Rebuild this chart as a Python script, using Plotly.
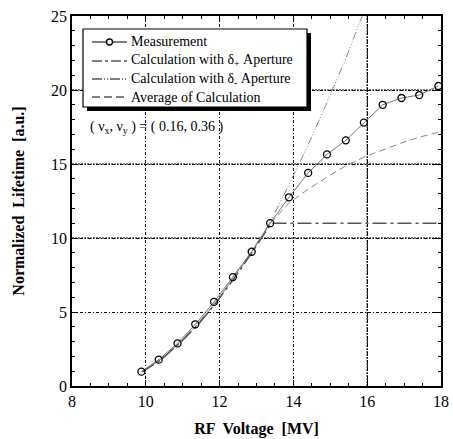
import plotly.graph_objects as go

# ---- data ----
meas_x = [9.88, 10.35, 10.86, 11.34, 11.85, 12.36, 12.87, 13.37, 13.88, 14.40,
          14.91, 15.42, 15.91, 16.42, 16.93, 17.41, 17.93]
meas_y = [0.97, 1.78, 2.88, 4.17, 5.68, 7.36, 9.07, 11.0, 12.75, 14.4,
          15.65, 16.6, 17.8, 19.0, 19.46, 19.66, 20.27]

dplus_x = [9.9, 10.4, 10.9, 11.4, 11.9, 12.4, 12.9, 13.4, 18.0]
dplus_y = [0.95, 1.75, 2.85, 4.1, 5.6, 7.3, 9.1, 11.0, 11.0]

dminus_x = [9.9, 10.4, 10.9, 11.4, 11.9, 12.4, 12.9, 13.4, 13.9, 14.4, 14.9, 15.4, 15.8, 16.0]
dminus_y = [1.0, 1.8, 2.9, 4.2, 5.7, 7.4, 9.2, 11.2, 13.7, 16.3, 19.1, 22.0, 24.6, 25.8]

avg_x = [9.9, 10.4, 10.9, 11.4, 11.9, 12.4, 12.9, 13.4, 13.9, 14.4, 14.9, 15.4,
         15.9, 16.4, 16.9, 17.4, 17.9, 18.0]
avg_y = [0.97, 1.77, 2.87, 4.15, 5.65, 7.35, 9.15, 11.1, 12.4, 13.3, 14.1, 14.85,
         15.45, 15.95, 16.4, 16.8, 17.15, 17.2]

legend_labels = ["Measurement", "Calculation with δ<sub>+</sub> Aperture",
                 "Calculation with δ<sub>-</sub> Aperture", "Average of Calculation"]

FONT = "Times New Roman, Liberation Serif, serif"
W, H = 453, 439
L, R, T, B = 72, 441, 16, 386

def px(X):
    return (X - L) / (R - L)

def py(Y):
    return (B - Y) / (B - T)

fig = go.Figure()
GRAY = "#8a8a8a"
fig.add_trace(go.Scatter(x=avg_x, y=avg_y, mode="lines",
                         line=dict(color=GRAY, width=1, dash="7px,4px")))
fig.add_trace(go.Scatter(x=dminus_x, y=dminus_y, mode="lines",
                         line=dict(color=GRAY, width=1, dash="8px,2px,1px,2px,1px,2px,1px,2px")))
fig.add_trace(go.Scatter(x=dplus_x, y=dplus_y, mode="lines",
                         line=dict(color="#555555", width=1.5, dash="14px,4px,3px,4px")))
fig.add_trace(go.Scatter(x=meas_x, y=meas_y, mode="lines+markers",
                         line=dict(color="#777777", width=1),
                         marker=dict(symbol="circle-open", size=7, color="black",
                                     line=dict(width=1.3, color="black"))))

shapes = []
# legend box shadow and box
bx0, bx1, by0, by1 = 83, 307, 29, 107
shapes.append(dict(type="rect", xref="paper", yref="paper",
                   x0=px(bx0 + 4), x1=px(bx1 + 4), y0=py(by1 + 4), y1=py(by0 + 4),
                   fillcolor="black", line=dict(width=0)))
shapes.append(dict(type="rect", xref="paper", yref="paper",
                   x0=px(bx0), x1=px(bx1), y0=py(by1), y1=py(by0),
                   fillcolor="white", line=dict(width=1.2, color="black")))
rows = [42, 61, 79, 97]
dashes = ["solid", "10px,3px,3px,3px", "10px,2px,1px,2px,1px,2px", "8px,4px"]
for rY, d in zip(rows, dashes):
    shapes.append(dict(type="line", xref="paper", yref="paper",
                       x0=px(92), x1=px(127), y0=py(rY), y1=py(rY),
                       line=dict(color="black", width=1, dash=d)))
shapes.append(dict(type="circle", xref="paper", yref="paper",
                   xsizemode="pixel", ysizemode="pixel",
                   xanchor=px(109.5), yanchor=py(rows[0]),
                   x0=-3, x1=3, y0=-3, y1=3,
                   line=dict(color="black", width=1.3), fillcolor="white"))
# heavier grid lines seen in the reference
for xv in [16]:
    shapes.append(dict(type="line", xref="x", yref="paper", x0=xv, x1=xv, y0=0, y1=1,
                       line=dict(color="black", width=1.2, dash="2px,1px"), layer="below"))
for yv in [10, 15, 20]:
    shapes.append(dict(type="line", xref="paper", yref="y", x0=0, x1=1, y0=yv, y1=yv,
                       line=dict(color="black", width=1.2, dash="2px,1px"), layer="below"))

annotations = []
for rY, lab in zip(rows, legend_labels):
    annotations.append(dict(xref="paper", yref="paper", x=px(129), y=py(rY),
                            xanchor="left", yanchor="middle", showarrow=False,
                            text=lab, font=dict(family=FONT, size=14, color="black")))
annotations.append(dict(xref="paper", yref="paper", x=px(88), y=py(127),
                        xanchor="left", yanchor="middle", showarrow=False,
                        text="( ν<sub>x</sub>, ν<sub>y</sub> ) = ( 0.16, 0.36 )",
                        font=dict(family=FONT, size=14, color="black")))

griddash = "3px,2px,1px,2px"
axis_common = dict(showline=True, linecolor="black", linewidth=1.5, mirror="ticks",
                   ticks="inside", ticklen=6, tickwidth=1, tickcolor="black",
                   showgrid=True, gridcolor="black", gridwidth=1, griddash=griddash,
                   zeroline=False, automargin=False,
                   tickfont=dict(family=FONT, size=16, color="black"))

fig.update_layout(
    width=W, height=H, showlegend=False,
    font=dict(family=FONT, color="black"),
    margin=dict(l=L, r=W - R, t=T, b=H - B),
    plot_bgcolor="white", paper_bgcolor="white",
    shapes=shapes, annotations=annotations,
    xaxis=dict(range=[8, 18], dtick=2, tick0=8,
               minor=dict(dtick=0.5, ticks="inside", ticklen=3, tickcolor="black", showgrid=False),
               title=dict(text="<b>RF  Voltage  [MV]</b>", standoff=14,
                          font=dict(family=FONT, size=16, color="black")),
               **axis_common),
    yaxis=dict(range=[0, 25], dtick=5, tick0=0,
               minor=dict(dtick=1, ticks="inside", ticklen=3, tickcolor="black", showgrid=False),
               title=dict(text="<b>Normalized  Lifetime  [a.u.]</b>", standoff=22,
                          font=dict(family=FONT, size=16, color="black")),
               **axis_common),
)

fig.write_html("out.html")
